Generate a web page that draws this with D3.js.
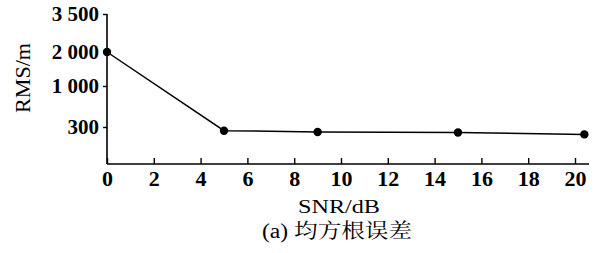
<!DOCTYPE html>
<html><head><meta charset="utf-8">
<script src="https://cdn.jsdelivr.net/npm/d3@7"></script>
<style>
body{margin:0;background:#fff;}
svg text{font-family:"Liberation Serif","Noto Serif CJK SC",serif;}
</style></head>
<body><svg id="c" width="599" height="253"></svg>
<script>
const snr = [0, 5, 9, 15, 20.4];
const rms = [2000, 270, 260, 255, 240];
const xTicks = [0, 2, 4, 6, 8, 10, 12, 14, 16, 18, 20];
const yTicks = [300, 1000, 2000, 3500];
const yTickLabels = ["300", "1 000", "2 000", "3 500"];
const xLabel = "SNR/dB";
const yLabel = "RMS/m";
const caption = "(a) 均方根误差";

const svg = d3.select("#c");
const x = d3.scaleLinear().domain([0, 20]).range([107, 575]);
// non-uniform vertical axis as printed
const y = d3.scaleLinear().domain([0, 300, 1000, 2000, 3500]).range([164, 127, 86, 52, 14]);

svg.append("line").attr("x1", x(0)).attr("x2", x(20.6)).attr("y1", y(0)).attr("y2", y(0))
  .attr("stroke", "#000").attr("stroke-width", 1.6);
svg.append("line").attr("x1", x(0)).attr("x2", x(0)).attr("y1", y(0)).attr("y2", y(3500))
  .attr("stroke", "#000").attr("stroke-width", 1.6);

const xa = svg.append("g").attr("transform", `translate(0,${y(0)})`)
  .call(d3.axisBottom(x).tickValues(xTicks).tickSize(-6).tickPadding(7).tickFormat(d3.format("d")));
xa.select(".domain").remove();
xa.selectAll("line").attr("stroke-width", 1.4);
xa.selectAll("text").attr("font-size", 22).attr("font-weight", "bold").attr("dy", "0.7em");

const ya = svg.append("g").attr("transform", `translate(${x(0)},0)`)
  .call(d3.axisLeft(y).tickValues(yTicks).tickSize(4).tickPadding(4).tickFormat((d, i) => yTickLabels[i]));
ya.select(".domain").remove();
ya.selectAll("line").attr("stroke-width", 1.4);
ya.selectAll("text").attr("font-size", 21).attr("font-weight", "bold");

const line = d3.line().x((d, i) => x(snr[i])).y(d => y(d));
svg.append("path").datum(rms).attr("d", line).attr("fill", "none").attr("stroke", "#000").attr("stroke-width", 1.5);
svg.selectAll("circle.p").data(rms).enter().append("circle")
  .attr("cx", (d, i) => x(snr[i])).attr("cy", d => y(d)).attr("r", 4.2).attr("fill", "#000");

svg.append("text").attr("x", 339).attr("y", 213).attr("text-anchor", "middle").attr("font-size", 19)
  .attr("textLength", 82).attr("lengthAdjust", "spacingAndGlyphs").text(xLabel);
svg.append("text").attr("x", 337).attr("y", 238).attr("text-anchor", "middle").attr("font-size", 20)
  .attr("textLength", 150).attr("lengthAdjust", "spacingAndGlyphs").text(caption);
svg.append("text").attr("transform", "translate(30,78) rotate(-90)").attr("text-anchor", "middle")
  .attr("font-size", 22).attr("textLength", 70).attr("lengthAdjust", "spacingAndGlyphs").text(yLabel);
</script></body></html>
